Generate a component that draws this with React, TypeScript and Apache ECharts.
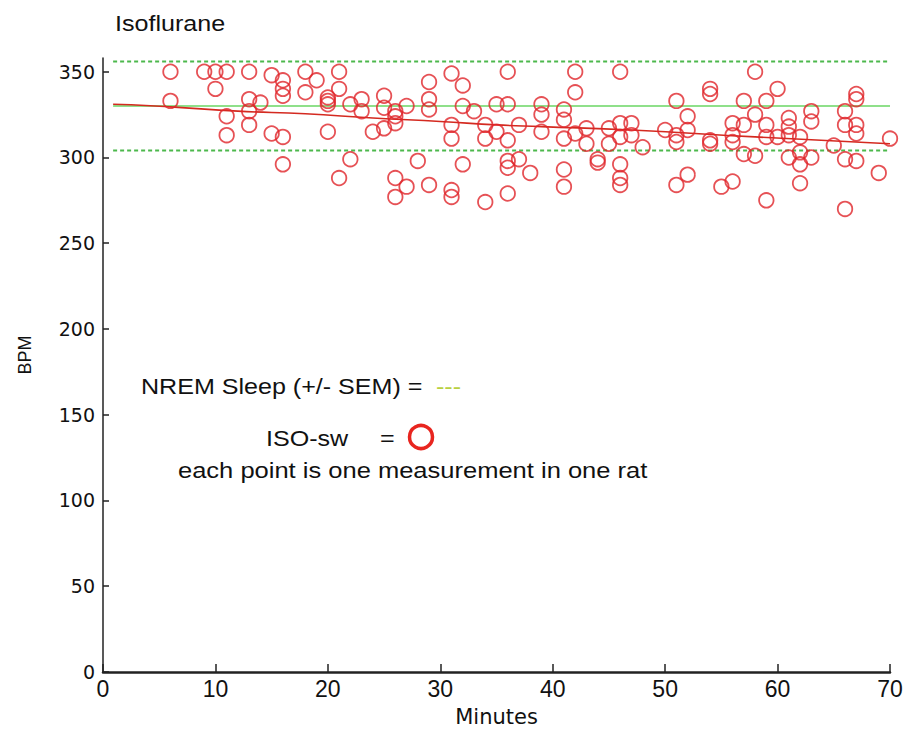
import React, { useEffect, useRef } from "react";
import * as echarts from "echarts";

// ISO-sw measurements: [minute, BPM]
const isoPoints: [number, number][] = [
  [6, 350], [6, 333],
  [9, 350],
  [10, 350], [10, 340],
  [11, 350], [11, 324], [11, 313],
  [13, 350], [13, 334], [13, 327], [13, 319],
  [14, 332],
  [15, 348], [15, 314],
  [16, 345], [16, 340], [16, 336], [16, 312], [16, 296],
  [18, 350], [18, 338],
  [19, 345],
  [20, 331], [20, 333], [20, 335], [20, 315],
  [21, 350], [21, 340], [21, 288],
  [22, 331], [22, 299],
  [23, 334], [23, 327],
  [24, 315],
  [25, 336], [25, 329], [25, 317],
  [26, 327], [26, 324], [26, 320], [26, 288], [26, 277],
  [27, 330], [27, 283],
  [28, 298],
  [29, 344], [29, 334], [29, 328], [29, 284],
  [31, 349], [31, 319], [31, 311], [31, 281], [31, 277],
  [32, 342], [32, 330], [32, 296],
  [33, 327],
  [34, 319], [34, 311], [34, 274],
  [35, 331], [35, 315],
  [36, 350], [36, 331], [36, 310], [36, 298], [36, 294], [36, 279],
  [37, 319], [37, 299],
  [38, 291],
  [39, 331], [39, 325], [39, 315],
  [41, 328], [41, 322], [41, 311], [41, 293], [41, 283],
  [42, 350], [42, 338], [42, 314],
  [43, 317], [43, 308],
  [44, 299], [44, 297],
  [45, 317], [45, 308],
  [46, 350], [46, 320], [46, 312], [46, 296], [46, 288], [46, 284],
  [47, 320], [47, 313],
  [48, 306],
  [50, 316],
  [51, 333], [51, 313], [51, 309], [51, 284],
  [52, 324], [52, 316], [52, 290],
  [54, 340], [54, 337], [54, 310], [54, 308],
  [55, 283],
  [56, 320], [56, 313], [56, 309], [56, 286],
  [57, 333], [57, 319], [57, 302],
  [58, 350], [58, 325], [58, 301],
  [59, 333], [59, 319], [59, 312], [59, 275],
  [60, 340], [60, 312],
  [61, 323], [61, 318], [61, 313], [61, 300],
  [62, 312], [62, 303], [62, 296], [62, 285],
  [63, 327], [63, 321], [63, 300],
  [65, 307],
  [66, 327], [66, 319], [66, 299], [66, 270],
  [67, 337], [67, 334], [67, 319], [67, 314], [67, 298],
  [69, 291],
  [70, 311],
];

// Smoothed trend of ISO-sw
const trendLine: [number, number][] = [
  [0.9, 331], [2.5, 330.7], [6, 329.5], [12, 327], [18, 325.5], [24, 323],
  [30, 321], [35, 319], [39, 318], [47, 316], [58, 312], [70, 308],
];

// NREM sleep reference (mean +/- SEM)
const nremStart = 0.9;
const nremEnd = 70;
const nremMean = 330;
const nremUpper = 356;
const nremLower = 304;

const xTicks = [0, 10, 20, 30, 40, 50, 60, 70];
const yTicks = [0, 50, 100, 150, 200, 250, 300, 350];

const FONT = "'Liberation Sans', Arial, Helvetica, sans-serif";
const NARROW = "'Liberation Sans Narrow', 'Liberation Sans', Arial, sans-serif";
const WIDE = "'DejaVu Sans', 'Liberation Sans', sans-serif";
const STRETCH = 1.14;

export default function App() {
  const ref = useRef<HTMLDivElement>(null);
  useEffect(() => {
    if (!ref.current) return;
    const chart = echarts.init(ref.current, undefined, { renderer: "svg" });
    const hline = (v: number): [number, number][] => [[nremStart, v], [nremEnd, v]];
    const label = (text: string, x: number, y: number, size: number, fill: string, sx = STRETCH) => ({
      type: "text",
      x,
      y,
      scaleX: sx,
      style: { text, fontFamily: FONT, fontSize: size, fill, verticalAlign: "middle", align: "left" },
    });
    chart.setOption({
      animation: false,
      backgroundColor: "#ffffff",
      grid: { left: 103, right: 17, top: 58, bottom: 62, containLabel: false, outerBoundsMode: "none" },
      xAxis: {
        type: "value",
        min: 0,
        max: 70,
        interval: 10,
        name: "Minutes",
        nameLocation: "middle",
        nameGap: 34,
        nameTextStyle: { fontFamily: WIDE, fontSize: 21, color: "#111" },
        axisLine: { lineStyle: { color: "#222", width: 2.5 } },
        axisTick: { inside: true, length: 8, lineStyle: { color: "#222", width: 1.5 }, customValues: xTicks },
        axisLabel: { fontFamily: NARROW, fontSize: 23, color: "#111", margin: 5, customValues: xTicks },
        splitLine: { show: false },
      },
      yAxis: {
        type: "value",
        min: 0,
        max: 358,
        axisLine: { show: true, lineStyle: { color: "#222", width: 1.5 } },
        axisTick: { show: true, inside: true, length: 6, lineStyle: { color: "#222", width: 1.5 }, customValues: yTicks },
        axisLabel: { fontFamily: WIDE, fontSize: 19, color: "#111", margin: 8, customValues: yTicks },
        splitLine: { show: false },
      },
      series: [
        {
          type: "line",
          data: hline(nremUpper),
          symbol: "none",
          lineStyle: { color: "#4cb84c", width: 2, type: [4, 3] },
          z: 1,
        },
        {
          type: "line",
          data: hline(nremLower),
          symbol: "none",
          lineStyle: { color: "#4cb84c", width: 2, type: [4, 3] },
          z: 1,
        },
        {
          type: "line",
          data: hline(nremMean),
          symbol: "none",
          lineStyle: { color: "#8fe08a", width: 2 },
          z: 1,
        },
        {
          type: "line",
          data: trendLine,
          symbol: "none",
          smooth: true,
          lineStyle: { color: "#d42a20", width: 1.6 },
          z: 2,
        },
        {
          type: "scatter",
          data: isoPoints,
          symbol: "circle",
          symbolSize: 14.5,
          itemStyle: { color: "rgba(0,0,0,0)", borderColor: "#e0262b", borderWidth: 1.8 },
          z: 3,
        },
      ],
      graphic: [
        label("Isoflurane", 115, 24, 22, "#111"),
        {
          type: "text",
          x: 25,
          y: 355,
          rotation: Math.PI / 2,
          style: { text: "BPM", fontFamily: FONT, fontSize: 18, fill: "#111", align: "center", verticalAlign: "middle" },
        },
        label("NREM Sleep (+/- SEM) =", 141, 387, 22, "#111"),
        label("---", 436, 387, 22, "#b8d040"),
        label("ISO-sw", 266, 439, 22, "#111"),
        label("=", 380, 439, 22, "#111"),
        {
          type: "circle",
          shape: { cx: 421, cy: 437, r: 11.5 },
          style: { fill: "none", stroke: "#e8251f", lineWidth: 3.5 },
        },
        label("each point is one measurement in one rat", 178, 470, 22, "#111", 1.16),
      ],
    });
    return () => chart.dispose();
  }, []);
  return (
    <div
      ref={ref}
      style={{ position: "absolute", left: 0, top: 0, width: 907, height: 734 }}
    />
  );
}
